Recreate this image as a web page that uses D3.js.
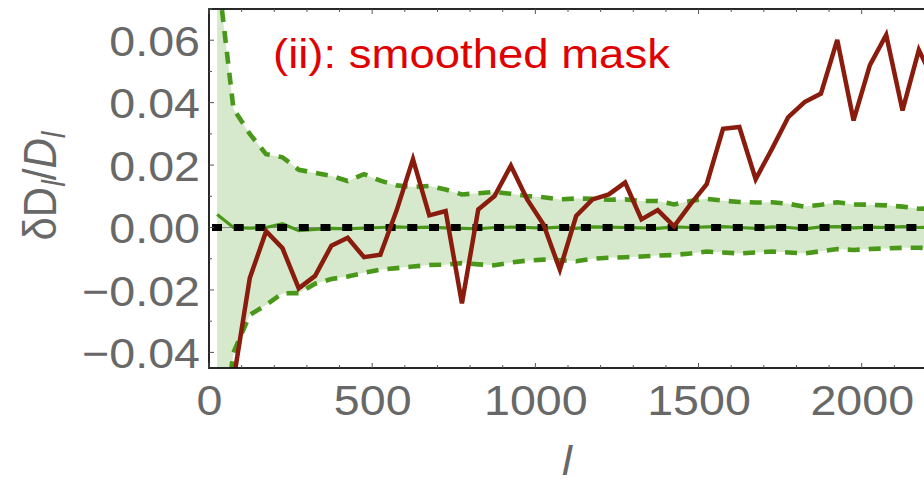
<!DOCTYPE html>
<html>
<head>
<meta charset="utf-8">
<script src="https://cdn.jsdelivr.net/npm/d3@7"></script>
<style>
  html, body { margin: 0; padding: 0; background: #fff; }
  svg { display: block; }
  text { font-family: "Liberation Sans", Arial, sans-serif; }
</style>
</head>
<body>
<svg id="chart" width="924" height="485"></svg>
<script>
// Multipole bins (bin centres)
const ell = [25, 75, 125, 175, 225, 275, 325, 375, 425, 475, 525, 575, 625, 675, 725,
  775, 825, 875, 925, 975, 1025, 1075, 1125, 1175, 1225, 1275, 1325, 1375, 1425, 1475,
  1525, 1575, 1625, 1675, 1725, 1775, 1825, 1875, 1925, 1975, 2025, 2075, 2125, 2175, 2225];

// Upper / lower edges of the simulation scatter band
const bandUpper = [0.083, 0.038, 0.030, 0.0235, 0.0225, 0.0185, 0.0175, 0.0165, 0.0149, 0.0171,
  0.0150, 0.0135, 0.0130, 0.0133, 0.0122, 0.0106, 0.0110, 0.0114, 0.0108, 0.0101,
  0.0097, 0.0090, 0.0093, 0.0092, 0.0089, 0.0090, 0.0085, 0.0085, 0.0074, 0.0085,
  0.0092, 0.0086, 0.0082, 0.0080, 0.0081, 0.0076, 0.0067, 0.0073, 0.0081, 0.0074,
  0.0073, 0.0071, 0.0067, 0.0060, 0.0062];
const bandLower = [-0.080, -0.040, -0.028, -0.0248, -0.0211, -0.0210, -0.0180, -0.0165, -0.0157, -0.0145,
  -0.0135, -0.0130, -0.0125, -0.0120, -0.0119, -0.0114, -0.0118, -0.0121, -0.0112, -0.0106,
  -0.0103, -0.0105, -0.0108, -0.0100, -0.0097, -0.0095, -0.0093, -0.0090, -0.0088, -0.0083,
  -0.0077, -0.0080, -0.0083, -0.0080, -0.0077, -0.0080, -0.0083, -0.0076, -0.0069, -0.0072,
  -0.0069, -0.0067, -0.0065, -0.0065, -0.0066];
// Mean of the simulations
const simMean = [0.0042, 0.0000, -0.0002, 0.0000, 0.0012, -0.0010, -0.0006, -0.0003, -0.0004, -0.0002,
  0.0000, 0.0002, 0.0000, 0.0001, -0.0001, -0.0003, -0.0004, 0.0000, 0.0001, 0.0000,
  -0.0002, 0.0001, -0.0003, 0.0002, 0.0001, 0.0000, -0.0001, -0.0003, 0.0002, 0.0000,
  0.0002, 0.0003, 0.0000, -0.0003, 0.0002, 0.0000, -0.0004, 0.0002, 0.0003, -0.0001,
  0.0001, 0.0000, 0.0003, 0.0000, 0.0001];

// Data residual (starts at the second bin)
const dataEll = [75, 125, 175, 225, 275, 325, 375, 425, 475, 525, 575, 625, 675, 725,
  775, 825, 875, 925, 975, 1025, 1075, 1125, 1175, 1225, 1275, 1325, 1375, 1425, 1475,
  1525, 1575, 1625, 1675, 1725, 1775, 1825, 1875, 1925, 1975, 2025, 2075, 2125, 2175, 2225];
const dataResidual = [-0.049, -0.0162, -0.0012, -0.0066, -0.0195, -0.0155, -0.0058, -0.0033, -0.0095, -0.0087,
  0.0055, 0.0219, 0.0039, 0.0053, -0.0243, 0.0058, 0.0101, 0.0198, 0.0090, 0.0010,
  -0.0135, 0.0037, 0.0090, 0.0106, 0.0144, 0.0026, 0.0056, 0.0004, 0.0074, 0.0139,
  0.0316, 0.0322, 0.0155, 0.0252, 0.0354, 0.0402, 0.0429, 0.0601, 0.0343, 0.0520,
  0.0617, 0.0375, 0.0569, 0.046];

const xTicks = [0, 500, 1000, 1500, 2000];
const yTicks = [-0.04, -0.02, 0.00, 0.02, 0.04, 0.06];
const yTickLabels = ["\u22120.04", "\u22120.02", "0.00", "0.02", "0.04", "0.06"];
const titleText = "(ii): smoothed mask";

const svg = d3.select("#chart");
const plotLeft = 209, plotRight = 927, plotTop = 9, plotBottom = 368;
const stretch = 1.11;

const x = d3.scaleLinear().domain([0, 2200]).range([plotLeft, plotRight]);
const y = d3.scaleLinear().domain([-0.045, 0.07]).range([plotBottom, plotTop]);

svg.append("defs").append("clipPath").attr("id", "plotClip")
  .append("rect").attr("x", plotLeft).attr("y", plotTop)
  .attr("width", plotRight - plotLeft).attr("height", plotBottom - plotTop);

const plot = svg.append("g").attr("clip-path", "url(#plotClip)");

const band = ell.map((l, i) => ({ l, lo: bandLower[i], hi: bandUpper[i], m: simMean[i] }));

// shaded band
plot.append("path").datum(band)
  .attr("fill", "#d6e9cc")
  .attr("d", d3.area().x(d => x(d.l)).y0(d => y(d.lo)).y1(d => y(d.hi)));

// zero axis (thin)
plot.append("line")
  .attr("x1", x(0)).attr("x2", x(2200)).attr("y1", y(0)).attr("y2", y(0))
  .attr("stroke", "#888").attr("stroke-width", 1);

// band edges
const green = "#4a981a";
["hi", "lo"].forEach(k => {
  plot.append("path").datum(band)
    .attr("fill", "none").attr("stroke", green).attr("stroke-width", 4.6)
    .attr("stroke-dasharray", "12,9")
    .attr("d", d3.line().x(d => x(d.l)).y(d => y(d[k])));
});

// simulation mean
plot.append("path").datum(band)
  .attr("fill", "none").attr("stroke", green).attr("stroke-width", 3.2)
  .attr("d", d3.line().x(d => x(d.l)).y(d => y(d.m)));

// reference zero (black dashed)
plot.append("path").datum(x.domain())
  .attr("fill", "none").attr("stroke", "#000").attr("stroke-width", 7)
  .attr("stroke-dasharray", "10,11.7").attr("stroke-dashoffset", -3)
  .attr("d", d3.line().x(d => x(d)).y(() => y(0)));

// data residual
plot.append("path").datum(dataEll.map((l, i) => ({ l, v: dataResidual[i] })))
  .attr("fill", "none").attr("stroke", "#8a1c0e").attr("stroke-width", 4.5)
  .attr("stroke-linejoin", "miter")
  .attr("d", d3.line().x(d => x(d.l)).y(d => y(d.v)));

// frame
const frame = svg.append("g").attr("stroke", "#111").attr("stroke-width", 1.8).attr("fill", "none");
frame.append("rect").attr("x", plotLeft).attr("y", plotTop)
  .attr("width", plotRight - plotLeft).attr("height", plotBottom - plotTop);

// inward ticks
const tickG = svg.append("g").attr("stroke", "#555").attr("stroke-width", 1);
d3.range(0, 2201, 100).forEach(v => {
  const len = v % 500 === 0 ? 5 : 3;
  tickG.append("line").attr("x1", x(v)).attr("x2", x(v)).attr("y1", plotBottom).attr("y2", plotBottom - len);
  tickG.append("line").attr("x1", x(v)).attr("x2", x(v)).attr("y1", plotTop).attr("y2", plotTop + len);
});
d3.range(-4, 8).forEach(k => {
  const v = k / 100;
  const len = k % 2 === 0 ? 5 : 3;
  tickG.append("line").attr("x1", plotLeft).attr("x2", plotLeft + len).attr("y1", y(v)).attr("y2", y(v));
});

// tick labels
const labelColor = "#686868";
const xAxis = d3.axisBottom(x).tickValues(xTicks).tickFormat(d3.format("d")).tickSize(0).tickPadding(0);
const gx = svg.append("g").attr("transform", `translate(0,${plotBottom})`).call(xAxis);
gx.select(".domain").remove();
gx.selectAll("text")
  .attr("y", 47).attr("dy", null)
  .attr("fill", labelColor).attr("font-size", 42)
  .attr("font-family", "Liberation Sans, Arial, sans-serif")
  .attr("transform", `scale(${stretch},1)`);

const yAxis = d3.axisLeft(y).tickValues(yTicks).tickFormat((d, i) => yTickLabels[i]).tickSize(0).tickPadding(0);
const gy = svg.append("g").attr("transform", `translate(${plotLeft},0)`).call(yAxis);
gy.select(".domain").remove();
gy.selectAll("text")
  .attr("x", -9 / stretch).attr("dy", "0.36em")
  .attr("fill", labelColor).attr("font-size", 42)
  .attr("font-family", "Liberation Sans, Arial, sans-serif")
  .attr("transform", `scale(${stretch},1)`);

// axis titles
svg.append("text")
  .attr("transform", `translate(567,475) scale(${stretch},1)`)
  .attr("text-anchor", "middle").attr("fill", labelColor)
  .attr("font-size", 40).attr("font-style", "italic").text("l");

const yl = svg.append("text")
  .attr("transform", `translate(56,186) scale(${stretch},1) rotate(-90)`)
  .attr("text-anchor", "middle").attr("fill", labelColor).attr("font-size", 42);
yl.append("tspan").text("\u03b4D");
yl.append("tspan").attr("font-style", "italic").attr("font-size", 30).attr("dy", 8).text("l");
yl.append("tspan").attr("dy", -8).text("/");
yl.append("tspan").attr("font-style", "italic").text("D");
yl.append("tspan").attr("font-style", "italic").attr("font-size", 30).attr("dy", 8).text("l");

// panel title
svg.append("text")
  .attr("transform", `translate(273,68) scale(${stretch},1)`)
  .attr("fill", "#e00000").attr("font-size", 41).text(titleText);
</script>
</body>
</html>
